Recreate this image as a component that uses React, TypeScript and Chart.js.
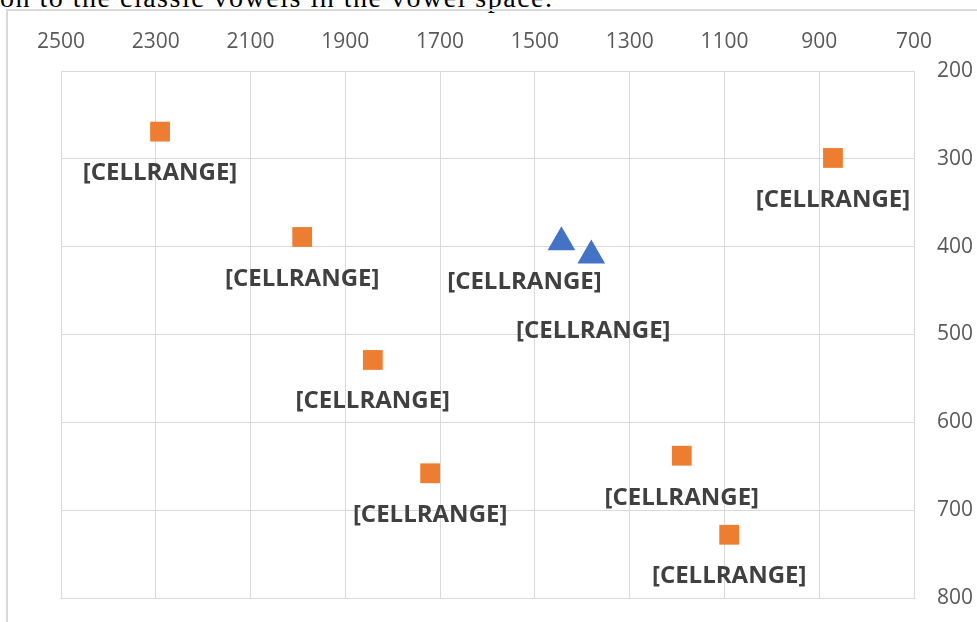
import React, { useEffect, useRef } from "react";
import { Chart, registerables } from "chart.js";

Chart.register(...registerables);

// Reference vowels (orange squares)
const vowelF2 = [2291, 1991, 1842, 1721, 1190, 1090, 871];
const vowelF1 = [269, 389, 529, 658, 638, 728, 299];
const vowelLabels = ["[CELLRANGE]", "[CELLRANGE]", "[CELLRANGE]", "[CELLRANGE]", "[CELLRANGE]", "[CELLRANGE]", "[CELLRANGE]"];

// Measured vowels (blue triangles)
const speakerF2 = [1444, 1381];
const speakerF1 = [395, 410];
const speakerLabels = ["[CELLRANGE]", "[CELLRANGE]"];

// Axis settings
const xMin = 700;
const xMax = 2500;
const xStep = 200;
const yMin = 200;
const yMax = 800;
const yStep = 100;

const captionText = "on to the classic vowels in the vowel space.";

// label offsets (styling, px)
const vowelLabelOffsets = [[0, 42], [0, 42], [0, 41], [0, 42], [0, 42], [0, 41], [0, 42]];
const speakerLabelOffsets = [[-37, 40], [2, 76]];

const labelPlugin = {
  id: "cellLabels",
  afterDatasetsDraw(chart: any) {
    const ctx = chart.ctx;
    ctx.save();
    ctx.font = "bold 24px 'Open Sans'";
    ctx.fillStyle = "#404040";
    ctx.textAlign = "center";
    ctx.textBaseline = "middle";
    chart.data.datasets.forEach((ds: any, i: number) => {
      const meta = chart.getDatasetMeta(i);
      meta.data.forEach((el: any, j: number) => {
        const off = ds.labelOffsets[j];
        ctx.fillText(ds.pointLabels[j], el.x + off[0], el.y + off[1]);
      });
    });
    ctx.restore();
  },
};

export default function App() {
  const canvasRef = useRef<HTMLCanvasElement | null>(null);

  useEffect(() => {
    if (!canvasRef.current) return;
    const chart = new Chart(canvasRef.current, {
      type: "scatter",
      data: {
        datasets: [
          {
            label: "Vowels",
            data: vowelF2.map((x, i) => ({ x, y: vowelF1[i] })),
            pointStyle: "rect",
            pointRadius: 14,
            pointHoverRadius: 14,
            backgroundColor: "#ED7D31",
            borderColor: "#ED7D31",
            borderWidth: 0,
            pointLabels: vowelLabels,
            labelOffsets: vowelLabelOffsets,
          } as any,
          {
            label: "Speaker",
            data: speakerF2.map((x, i) => ({ x, y: speakerF1[i] })),
            pointStyle: "triangle",
            pointRadius: 14,
            pointHoverRadius: 14,
            backgroundColor: "#4472C4",
            borderColor: "#4472C4",
            borderWidth: 2,
            pointLabels: speakerLabels,
            labelOffsets: speakerLabelOffsets,
          } as any,
        ],
      },
      options: {
        responsive: false,
        animation: false,
        layout: { padding: { left: 61, top: 0, right: 0, bottom: 24 } },
        plugins: {
          legend: { display: false },
          tooltip: { enabled: false },
        },
        scales: {
          x: {
            type: "linear",
            position: "top",
            reverse: true,
            min: xMin,
            max: xMax,
            ticks: {
              stepSize: xStep,
              color: "#595959",
              font: { family: "'Open Sans'", size: 21 },
              padding: 16,
              maxRotation: 0,
              callback: (v: any) => String(v),
            },
            grid: { color: "#d9d9d9", lineWidth: 1, drawTicks: false },
            border: { color: "#d9d9d9", width: 1 },
            afterFit(scale: any) {
              scale.height = 71;
              scale.paddingLeft = 0;
              scale.paddingRight = 0;
            },
          },
          y: {
            type: "linear",
            position: "right",
            reverse: true,
            min: yMin,
            max: yMax,
            ticks: {
              stepSize: yStep,
              color: "#595959",
              font: { family: "'Open Sans'", size: 21 },
              padding: 23,
              callback: (v: any) => String(v),
            },
            grid: { color: "#d9d9d9", lineWidth: 1, drawTicks: false },
            border: { color: "#d9d9d9", width: 1 },
            afterFit(scale: any) {
              scale.width = 63;
              scale.paddingTop = 0;
              scale.paddingBottom = 0;
            },
          },
        },
      },
      plugins: [labelPlugin],
    });
    return () => chart.destroy();
  }, []);

  return (
    <div
      style={{
        position: "absolute",
        left: 0,
        top: 0,
        width: 977,
        height: 622,
        overflow: "hidden",
        background: "#ffffff",
      }}
    >
      <div
        style={{
          position: "absolute",
          left: 0,
          top: -16,
          fontFamily: "'Liberation Serif', serif",
          fontSize: 28,
          lineHeight: "28px",
          letterSpacing: 1.5,
          whiteSpace: "nowrap",
          color: "#000",
        }}
      >
        {captionText}
      </div>
      <div
        style={{
          position: "absolute",
          left: 6,
          top: 9,
          width: 990,
          height: 630,
          borderLeft: "2px solid #d9d9d9",
          borderTop: "2px solid #d9d9d9",
        }}
      />
      <canvas
        ref={canvasRef}
        width={977}
        height={622}
        style={{ position: "absolute", left: 0, top: 0, width: 977, height: 622 }}
      />
    </div>
  );
}
